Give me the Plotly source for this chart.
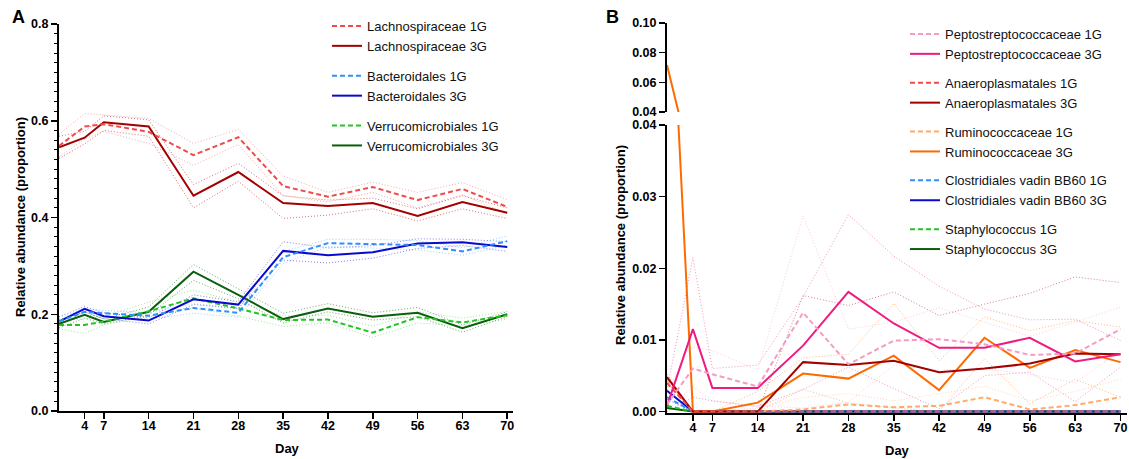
import plotly.graph_objects as go

days = [0, 4, 7, 14, 21, 28, 35, 42, 49, 56, 63, 70]
x_ticks = [4, 7, 14, 21, 28, 35, 42, 49, 56, 63, 70]

# ---------------- Panel A ----------------
lachno_1g = [0.548, 0.588, 0.593, 0.577, 0.529, 0.566, 0.465, 0.443, 0.463, 0.436, 0.459, 0.422]
lachno_1g_hi = [0.572, 0.615, 0.612, 0.605, 0.553, 0.582, 0.486, 0.452, 0.473, 0.452, 0.472, 0.437]
lachno_1g_lo = [0.525, 0.562, 0.578, 0.553, 0.508, 0.551, 0.445, 0.432, 0.452, 0.420, 0.447, 0.408]
lachno_3g = [0.545, 0.565, 0.597, 0.588, 0.445, 0.494, 0.430, 0.424, 0.430, 0.403, 0.432, 0.410]
lachno_3g_hi = [0.568, 0.578, 0.610, 0.602, 0.468, 0.512, 0.445, 0.436, 0.440, 0.418, 0.445, 0.420]
lachno_3g_lo = [0.522, 0.552, 0.580, 0.568, 0.420, 0.475, 0.398, 0.405, 0.418, 0.393, 0.418, 0.398]

bact_1g = [0.185, 0.205, 0.202, 0.197, 0.213, 0.203, 0.318, 0.347, 0.345, 0.343, 0.330, 0.351]
bact_1g_hi = [0.192, 0.212, 0.208, 0.203, 0.222, 0.212, 0.330, 0.355, 0.355, 0.352, 0.338, 0.362]
bact_1g_lo = [0.178, 0.198, 0.196, 0.190, 0.202, 0.194, 0.305, 0.340, 0.337, 0.333, 0.322, 0.343]
bact_3g = [0.185, 0.211, 0.196, 0.187, 0.231, 0.220, 0.331, 0.322, 0.328, 0.346, 0.349, 0.339]
bact_3g_hi = [0.195, 0.216, 0.203, 0.193, 0.240, 0.226, 0.350, 0.337, 0.342, 0.356, 0.355, 0.350]
bact_3g_lo = [0.178, 0.205, 0.191, 0.180, 0.220, 0.212, 0.312, 0.306, 0.316, 0.336, 0.342, 0.330]

verr_1g = [0.178, 0.178, 0.185, 0.206, 0.233, 0.212, 0.188, 0.189, 0.162, 0.194, 0.183, 0.198]
verr_1g_hi = [0.190, 0.190, 0.195, 0.225, 0.250, 0.225, 0.197, 0.198, 0.175, 0.205, 0.192, 0.206]
verr_1g_lo = [0.170, 0.160, 0.178, 0.195, 0.213, 0.196, 0.175, 0.182, 0.152, 0.182, 0.176, 0.190]
verr_3g = [0.180, 0.199, 0.184, 0.205, 0.288, 0.240, 0.190, 0.212, 0.195, 0.203, 0.171, 0.200]
verr_3g_hi = [0.188, 0.205, 0.190, 0.215, 0.303, 0.252, 0.202, 0.222, 0.203, 0.214, 0.178, 0.205]
verr_3g_lo = [0.172, 0.192, 0.180, 0.198, 0.270, 0.232, 0.182, 0.205, 0.188, 0.195, 0.163, 0.195]

# ---------------- Panel B ----------------
pepto_1g = [0.0010, 0.0060, 0.0052, 0.0035, 0.0138, 0.0066, 0.0099, 0.0101, 0.0094, 0.0079, 0.0081, 0.0115]
pepto_1g_hi = [0.0030, 0.0090, 0.0085, 0.0058, 0.0273, 0.0115, 0.0125, 0.0145, 0.0125, 0.0105, 0.0125, 0.0146]
pepto_1g_lo = [0.0000, 0.0035, 0.0015, 0.0008, 0.0005, 0.0013, 0.0065, 0.0058, 0.0060, 0.0052, 0.0040, 0.0085]
pepto_3g = [0.0008, 0.0115, 0.0033, 0.0033, 0.0092, 0.0167, 0.0123, 0.0089, 0.0089, 0.0103, 0.0070, 0.0080]
pepto_3g_hi = [0.0030, 0.0215, 0.0060, 0.0065, 0.0160, 0.0275, 0.0217, 0.0175, 0.0143, 0.0128, 0.0129, 0.0099]
pepto_3g_lo = [0.0000, 0.0020, 0.0015, 0.0007, 0.0031, 0.0062, 0.0032, 0.0004, 0.0050, 0.0055, 0.0014, 0.0062]

anaero_1g = [0.0040, 0, 0, 0, 0, 0, 0, 0, 0, 0, 0, 0]
anaero_3g = [0.0048, 0, 0, 0, 0.0069, 0.0065, 0.0071, 0.0055, 0.0060, 0.0067, 0.0081, 0.0080]
anaero_3g_hi = [0.0052, 0, 0, 0, 0.0162, 0.0148, 0.0167, 0.0134, 0.0150, 0.0165, 0.0188, 0.0180]

rumino_1g = [0.0045, 0, 0, 0, 0.0003, 0.0010, 0.0006, 0.0008, 0.0020, 0.0003, 0.0009, 0.0020]
rumino_1g_hi = [None, 0, 0, 0.0005, 0.0020, 0.0025, 0.0015, 0.0025, 0.0035, 0.0015, 0.0028, 0.0045]
rumino_3g = [0.0717, 0, 0, 0.00125, 0.0053, 0.0046, 0.0078, 0.0030, 0.0103, 0.0061, 0.0086, 0.0069]
rumino_3g_hi = [None, 0, 0, 0.0028, 0.0075, 0.0080, 0.0151, 0.0071, 0.0132, 0.0113, 0.0127, 0.0118]
rumino_3g_lo = [None, 0, 0, 0, 0.0031, 0.0012, 0.0005, 0.0000, 0.0074, 0.0011, 0.0045, 0.0020]

clost_1g = [0.0020, 0, 0, 0, 0, 0, 0, 0, 0, 0, 0, 0]
clost_3g = [0.0029, 0, 0, 0, 0, 0, 0, 0, 0, 0, 0, 0]
clost_3g_hi = [0.0040, 0, 0, 0, 0, 0, 0, 0, 0, 0, 0, 0]
clost_3g_lo = [0.0017, 0, 0, 0, 0, 0, 0, 0, 0, 0, 0, 0]

staph_1g = [0.0008, 0, 0, 0, 0, 0, 0, 0, 0, 0, 0, 0]
staph_3g = [0.0005, 0, 0, 0, 0, 0, 0, 0, 0, 0, 0, 0]

W, H = 1129, 459
FONT = "Liberation Sans, Arial, sans-serif"
DASH = "5px,3px"
DOT = "1px,2px"

fig = go.Figure()


def mean_line(y, name, color, dashed, xa, ya, legend, group, rank, show=True):
    fig.add_trace(go.Scatter(
        x=days, y=y, mode="lines", name=name, legendgroup=group, legendrank=rank,
        line=dict(color=color, width=2, dash=DASH if dashed else "solid"),
        xaxis=xa, yaxis=ya, legend=legend, showlegend=show, hoverinfo="skip"))


def bound(y, color, xa, ya, group):
    fig.add_trace(go.Scatter(
        x=days, y=y, mode="lines", showlegend=False, legendgroup=group,
        line=dict(color=color, width=1, dash=DOT), opacity=0.75,
        xaxis=xa, yaxis=ya, hoverinfo="skip", connectgaps=False))


# Panel A bounds
for hi, lo, col, g in [
    (lachno_1g_hi, lachno_1g_lo, "#F28A8A", "la"),
    (lachno_3g_hi, lachno_3g_lo, "#C84040", "la"),
    (bact_1g_hi, bact_1g_lo, "#7EBBFF", "ba"),
    (bact_3g_hi, bact_3g_lo, "#5A5AE0", "ba"),
    (verr_1g_hi, verr_1g_lo, "#7ADB7A", "ve"),
    (verr_3g_hi, verr_3g_lo, "#3C8A3C", "ve"),
]:
    bound(hi, col, "x", "y", g)
    bound(lo, col, "x", "y", g)

mean_line(verr_3g, "Verrucomicrobiales 3G", "#0B5E0B", False, "x", "y", "legend", "ve", 6)
mean_line(verr_1g, "Verrucomicrobiales 1G", "#22C422", True, "x", "y", "legend", "ve", 5)
mean_line(bact_3g, "Bacteroidales 3G", "#0A0ACC", False, "x", "y", "legend", "ba", 4)
mean_line(bact_1g, "Bacteroidales 1G", "#2F8FFF", True, "x", "y", "legend", "ba", 3)
mean_line(lachno_3g, "Lachnospiraceae 3G", "#A30000", False, "x", "y", "legend", "la", 2)
mean_line(lachno_1g, "Lachnospiraceae 1G", "#F04A4A", True, "x", "y", "legend", "la", 1)

# Panel B bounds
bound(pepto_1g_hi, "#F9B8D4", "x2", "y2", "pe")
bound(pepto_1g_lo, "#F9B8D4", "x2", "y2", "pe")
bound(pepto_3g_hi, "#EE6FAA", "x2", "y2", "pe")
bound(pepto_3g_lo, "#EE6FAA", "x2", "y2", "pe")
bound(anaero_3g_hi, "#C25A5A", "x2", "y2", "an")
bound(rumino_1g_hi, "#FFC89A", "x2", "y2", "ru")
bound(rumino_3g_hi, "#FFA060", "x2", "y2", "ru")
bound(rumino_3g_lo, "#FFA060", "x2", "y2", "ru")
bound(clost_3g_hi, "#5A5AE0", "x2", "y2", "cl")
bound(clost_3g_lo, "#5A5AE0", "x2", "y2", "cl")

mean_line(staph_3g, "Staphylococcus 3G", "#0B5E0B", False, "x2", "y2", "legend2", "st", 10)
mean_line(staph_1g, "Staphylococcus 1G", "#22C422", True, "x2", "y2", "legend2", "st", 9)
mean_line(clost_3g, "Clostridiales vadin BB60 3G", "#0A0ACC", False, "x2", "y2", "legend2", "cl", 8)
mean_line(clost_1g, "Clostridiales vadin BB60 1G", "#2F8FFF", True, "x2", "y2", "legend2", "cl", 7)
mean_line(rumino_3g, "Ruminococcaceae 3G", "#FF6A00", False, "x2", "y2", "legend2", "ru", 6)
mean_line(rumino_1g, "Ruminococcaceae 1G", "#FFAA66", True, "x2", "y2", "legend2", "ru", 5)
mean_line(anaero_3g, "Anaeroplasmatales 3G", "#A30000", False, "x2", "y2", "legend2", "an", 4)
mean_line(anaero_1g, "Anaeroplasmatales 1G", "#F04A4A", True, "x2", "y2", "legend2", "an", 3)
mean_line(pepto_3g, "Peptostreptococcaceae 3G", "#EE1C80", False, "x2", "y2", "legend2", "pe", 2)
mean_line(pepto_1g, "Peptostreptococcaceae 1G", "#F59CC4", True, "x2", "y2", "legend2", "pe", 1)
# upper broken segment of panel B
mean_line(rumino_3g, "Ruminococcaceae 3G", "#FF6A00", False, "x3", "y3", "legend2", "ru", 6, show=False)

tickfont = dict(family=FONT, size=12.5, color="black", weight="bold")
axis_common = dict(showline=True, linecolor="black", linewidth=2, ticks="outside",
                   ticklen=6, tickwidth=1.5, tickcolor="black", showgrid=False,
                   zeroline=False, tickfont=tickfont, fixedrange=True, automargin=False)

fig.update_layout(
    template=None,
    width=W, height=H, autosize=False,
    margin=dict(l=0, r=0, t=0, b=0, pad=0),
    paper_bgcolor="white", plot_bgcolor="white",
    font=dict(family=FONT, color="black"),
    xaxis=dict(domain=[59 / W, 513 / W], range=[0, 70.9], tickvals=x_ticks,
               anchor="y", ticklabelstandoff=-4, **axis_common),
    yaxis=dict(domain=[48 / H, 435 / H], range=[0, 0.8], tickvals=[0, 0.2, 0.4, 0.6, 0.8],
               ticktext=["0.0", "0.2", "0.4", "0.6", "0.8"], anchor="x",
               minor=dict(dtick=0.02, ticks="outside", ticklen=3, tickwidth=1, tickcolor="black"),
               **axis_common),
    xaxis2=dict(domain=[667 / W, 1127 / W], range=[0, 71], tickvals=x_ticks,
                anchor="y2", ticklabelstandoff=-4, **axis_common),
    yaxis2=dict(domain=[46 / H, 334 / H], range=[-0.0002, 0.04],
                tickvals=[0, 0.01, 0.02, 0.03, 0.04],
                ticktext=["0.00", "0.01", "0.02", "0.03", "0.04"], anchor="x2", **axis_common),
    xaxis3=dict(domain=[667 / W, 1127 / W], range=[0, 71], anchor="y3", visible=False,
                matches="x2", automargin=False),
    yaxis3=dict(domain=[347 / H, 436 / H], range=[0.04, 0.10],
                tickvals=[0.04, 0.06, 0.08, 0.10],
                ticktext=["0.04", "0.06", "0.08", "0.10"], anchor="x3", **axis_common),
    legend=dict(x=327 / W, y=1 - 11 / H, xanchor="left", yanchor="top",
                traceorder="grouped", tracegroupgap=10, bgcolor="rgba(0,0,0,0)",
                font=dict(family=FONT, size=13, color="#111")),
    legend2=dict(x=905 / W, y=1 - 19 / H, xanchor="left", yanchor="top",
                 traceorder="grouped", tracegroupgap=9, bgcolor="rgba(0,0,0,0)",
                 font=dict(family=FONT, size=13, color="#111")),
    showlegend=True,
)

ann_font = dict(family=FONT, size=13, color="black", weight="bold")
annotations = [
    dict(text="A", x=18 / W, y=1 - 17 / H, font=dict(family=FONT, size=18, color="black", weight="bold")),
    dict(text="B", x=612 / W, y=1 - 17 / H, font=dict(family=FONT, size=18, color="black", weight="bold")),
    dict(text="Relative abundance (proportion)", x=20 / W, y=1 - 217 / H, textangle=-90, font=ann_font),
    dict(text="Relative abundance (proportion)", x=621 / W, y=1 - 245 / H, textangle=-90, font=ann_font),
    dict(text="Day", x=287 / W, y=1 - 448 / H, font=ann_font),
    dict(text="Day", x=897 / W, y=1 - 450 / H, font=ann_font),
]
for a in annotations:
    a.update(xref="paper", yref="paper", showarrow=False, xanchor="center", yanchor="middle")
fig.update_layout(annotations=annotations)

fig.write_html("out.html", config={"displayModeBar": False, "staticPlot": True},
               post_script="document.body.style.margin='0';document.body.style.overflow='hidden';")
